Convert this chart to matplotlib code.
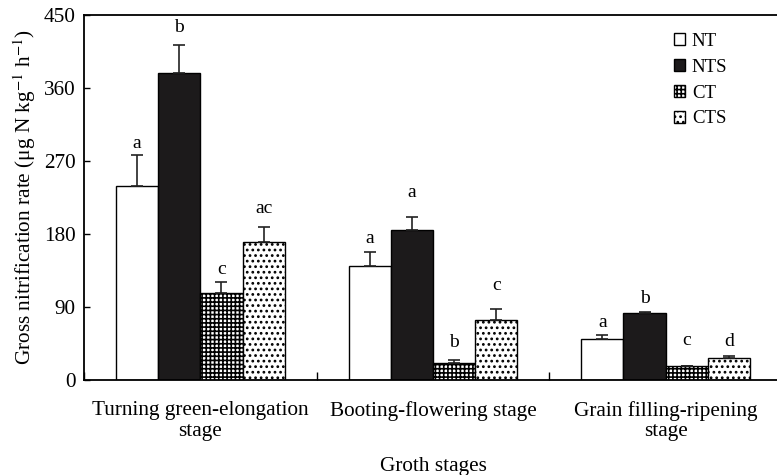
import numpy as np
import matplotlib
matplotlib.use("Agg")
import matplotlib.pyplot as plt

plt.rcParams["font.family"] = ["Liberation Serif", "DejaVu Serif"]
plt.rcParams["mathtext.fontset"] = "stix"
plt.rcParams["hatch.linewidth"] = 1.2

# Growth stages and treatments
stages = ["Turning green-elongation\nstage",
          "Booting-flowering stage",
          "Grain filling-ripening\nstage"]
treatments = ["NT", "NTS", "CT", "CTS"]

# Gross nitrification rate (ug N kg-1 h-1), one list per treatment across stages
nt_vals = [239.5, 140.2, 51.0]
nts_vals = [378.0, 185.3, 82.2]
ct_vals = [107.6, 21.0, 16.9]
cts_vals = [170.5, 73.6, 27.5]

# Standard errors (drawn upward only)
nt_err = [37.5, 17.6, 4.0]
nts_err = [35.0, 16.0, 1.5]
ct_err = [12.8, 3.7, 0.8]
cts_err = [18.0, 14.3, 2.0]

# Significance letters
nt_sig = ["a", "a", "a"]
nts_sig = ["b", "a", "b"]
ct_sig = ["c", "b", "c"]
cts_sig = ["ac", "c", "d"]

yticks = [0, 90, 180, 270, 360, 450]

values = [nt_vals, nts_vals, ct_vals, cts_vals]
errors = [nt_err, nts_err, ct_err, cts_err]
letters = [nt_sig, nts_sig, ct_sig, cts_sig]

# Bar styles
fills = ["white", "#1c1a1b", "white", "white"]
hatches = [None, None, "++++", "..."]
# Vertical gap (points) between cap and letter
letter_gap = [[5, 6.3, 5.8], [9.4, 14.4, 6.5], [5.8, 9.4, 15], [10, 13.5, 7.2]]

fig = plt.figure(figsize=(7.77, 4.75), dpi=100)
ax = fig.add_axes([84 / 777, 95 / 475, 698 / 777, 365 / 475])

x = np.arange(len(stages))
width = 0.1815
fs = 15.3

for i, (vals, errs, sig) in enumerate(zip(values, errors, letters)):
    pos = x + (i - 1.5) * width
    ax.bar(pos, vals, width=width, color=fills[i], edgecolor="black",
           linewidth=1.0, hatch=hatches[i], label=treatments[i], zorder=2)
    ax.errorbar(pos, vals, yerr=[np.zeros(len(vals)), errs], fmt="none",
                ecolor="#222222", elinewidth=1.2, capsize=4, capthick=1.2,
                zorder=3)
    for j in range(len(vals)):
        ax.annotate(sig[j], (pos[j], vals[j] + errs[j]),
                    xytext=(0, letter_gap[i][j]), textcoords="offset points",
                    ha="center", va="baseline", fontsize=14)

ax.set_xlim(-0.5, len(stages) - 0.5)
ax.set_ylim(0, 450)
ax.set_yticks(yticks)
ax.tick_params(axis="y", direction="in", length=4, width=1.0,
               labelsize=fs, pad=6)

# Category boundaries carry tick marks; labels sit at group centres
ax.set_xticks(np.arange(-0.5, len(stages), 1.0))
ax.set_xticklabels([])
ax.tick_params(axis="x", which="major", direction="in", length=6, width=1.0)
ax.set_xticks(x, minor=True)
ax.set_xticklabels(stages, minor=True, fontsize=fs, linespacing=1.12)
ax.tick_params(axis="x", which="minor", length=0, pad=15)

for s in ax.spines.values():
    s.set_linewidth(1.3)

ax.set_xlabel("Groth stages", fontsize=fs, labelpad=11)
ax.set_ylabel("Gross nitrification rate (μg N kg$^{-1}$ h$^{-1}$)",
              fontsize=fs, labelpad=4)

fig.legend(loc="upper left", bbox_to_anchor=(674 / 777, (475 - 33) / 475),
           frameon=False, fontsize=13.5, handlelength=0.6, handleheight=0.6,
           handletextpad=0.35, labelspacing=0.47, borderpad=0, borderaxespad=0)

fig.savefig("out.png", dpi=100)
